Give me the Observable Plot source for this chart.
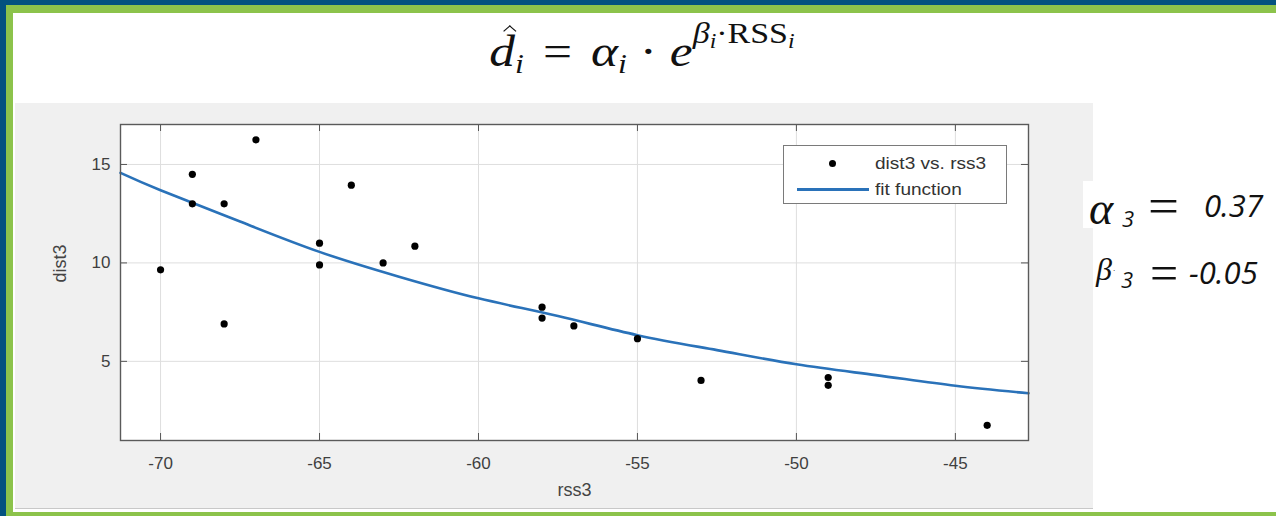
<!DOCTYPE html>
<html><head><meta charset="utf-8">
<script src="https://cdn.jsdelivr.net/npm/d3@7"></script>
<script src="https://cdn.jsdelivr.net/npm/@observablehq/plot@0.6"></script>
<style>
html,body{margin:0;padding:0;background:#fff;}
#page{position:relative;width:1276px;height:516px;overflow:hidden;background:#fff;}
.abs{position:absolute;}
#topBlue{left:0;top:0;width:1276px;height:5px;background:#03527f;}
#topGreen{left:6px;top:5px;width:1270px;height:8px;background:#8cc34b;}
#leftBlue{left:0;top:0;width:6px;height:516px;background:#03527f;}
#leftGreen{left:6px;top:5px;width:7px;height:511px;background:#8cc34b;}
#bottomGreen{left:6px;top:512px;width:1270px;height:4px;background:#8cc34b;}
#fig{left:15px;top:103px;width:1078px;height:405px;background:#f0f0f0;border-bottom:1px solid #c8c8c8;}
#chart{left:0;top:0;}
#chart svg{display:block;}
#formula{left:342px;top:16px;width:600px;text-align:center;font-family:'Liberation Serif','Times New Roman',serif;font-size:44px;color:#111;white-space:nowrap;transform:scaleX(1.17);transform-origin:center;line-height:1.2;}
#formula .it{font-style:italic;}
#formula .hat{position:relative;display:inline-block;}
#formula .circ{position:absolute;left:0.3em;top:0.02em;width:0.16em;height:0.16em;border-left:1.5px solid #111;border-top:1.5px solid #111;transform:rotate(45deg);}
#formula sub{font-size:0.62em;vertical-align:-0.28em;font-style:italic;}
#formula sup{font-size:0.66em;vertical-align:0.78em;}
#formula sup sub{font-size:0.7em;vertical-align:-0.25em;}
#formula .sp{display:inline-block;width:0.12em;}
#legend{left:783px;top:145px;width:222px;height:57px;background:#fff;border:1.5px solid #7a7a7a;}
.legtxt{font-family:'Liberation Sans',Arial,sans-serif;font-size:17px;color:#333;white-space:nowrap;line-height:1;transform:scaleX(1.12);transform-origin:left center;}
#params{font-family:'Liberation Serif','Times New Roman',serif;color:#111;}
#paramBox{left:1083px;top:181px;width:193px;height:47px;background:#fff;}
.sym{font-style:italic;line-height:1;white-space:nowrap;}
.num{font-family:'Open Sans','DejaVu Sans',sans-serif;font-style:italic;line-height:1;white-space:nowrap;color:#111;}
</style></head>
<body>
<div id="page">
  <div id="topBlue" class="abs"></div>
  <div id="topGreen" class="abs"></div>
  <div id="leftBlue" class="abs"></div>
  <div id="leftGreen" class="abs"></div>
  <div id="bottomGreen" class="abs"></div>
  <div id="fig" class="abs"></div>
  <div id="paramBox" class="abs"></div>
  <div id="chart" class="abs"></div>
  <div id="formula" class="abs"><span class="hat it">d<span class="circ"></span></span><sub>i</sub> <span class="sp"></span>= <span class="sp"></span><span class="it">α</span><sub>i</sub> · <span class="it">e</span><sup><span class="it">β</span><sub>i</sub>·RSS<sub>i</sub></sup></div>
  <div id="legend" class="abs"></div>
  <div id="legDot" class="abs" style="left:828.5px;top:159.5px;width:7px;height:7px;border-radius:50%;background:#000;"></div>
  <div class="abs legtxt" style="left:875px;top:155px;">dist3 vs. rss3</div>
  <div class="abs" style="left:797px;top:188px;width:72px;height:3px;background:#2a72b9;"></div>
  <div class="abs legtxt" style="left:875px;top:181px;">fit function</div>
  <div id="params">
    <div class="abs sym" style="left:1089px;top:186px;font-size:46px;">α</div>
    <div class="abs num" style="left:1122px;top:207px;font-size:22px;">3</div>
    <div class="abs sym" style="left:1148px;top:181px;font-size:50px;font-style:normal;transform:scaleX(1.1);transform-origin:left;">=</div>
    <div class="abs num" style="left:1204px;top:190px;font-size:31px;">0.37</div>
    <div class="abs sym" style="left:1096px;top:253px;font-size:32px;">β</div>
    <div class="abs num" style="left:1113px;top:266px;font-size:8px;">·</div>
    <div class="abs num" style="left:1121px;top:268px;font-size:22px;">3</div>
    <div class="abs sym" style="left:1150px;top:248px;font-size:50px;font-style:normal;">=</div>
    <div class="abs num" style="left:1189px;top:257px;font-size:31px;">-0.05</div>
  </div>
</div>
<script>
// Data
const rss3  = [-70, -69, -69, -68, -68, -67, -65, -65, -64, -63, -62, -58, -58, -57, -55, -53, -49, -49, -44];
const dist3 = [9.65, 14.5, 13.0, 13.0, 6.9, 16.25, 11.0, 9.9, 13.95, 10.0, 10.85, 7.75, 7.2, 6.8, 6.15, 4.03, 4.18, 3.78, 1.75];
// fitted curve
const fitRss  = [-71.26, -70, -67.5, -65, -62.5, -60, -57.5, -55, -52.5, -50, -47.5, -45, -42.7];
const fitDist = [14.57, 13.69, 12.1, 10.56, 9.3, 8.2, 7.3, 6.33, 5.57, 4.85, 4.3, 3.76, 3.38];
const xTicks = [-70, -65, -60, -55, -50, -45];
const yTicks = [5, 10, 15];
const xDomain = [-71.26, -42.7];
const yDomain = [0.98, 17.03];

const points = rss3.map((x, i) => ({rss: x, dist: dist3[i]}));
const fit = fitRss.map((x, i) => ({rss: x, dist: fitDist[i]}));

const W = 1276, H = 516, ML = 120, MR = 248, MT = 124, MB = 76;
const fw = W - ML - MR, fh = H - MT - MB, tk = 7;

const chart = Plot.plot({
  width: W, height: H,
  marginLeft: ML, marginRight: MR, marginTop: MT, marginBottom: MB,
  style: {background: "transparent", fontFamily: "'Liberation Sans', Arial, sans-serif", fontSize: "17px", color: "#444"},
  x: {domain: xDomain},
  y: {domain: yDomain},
  marks: [
    Plot.frame({fill: "#fff", stroke: null}),
    Plot.gridX(xTicks, {stroke: "#dedede", strokeOpacity: 1}),
    Plot.gridY(yTicks, {stroke: "#dedede", strokeOpacity: 1}),
    Plot.tickX(xTicks, {x: d => d, insetTop: fh - tk, stroke: "#555"}),
    Plot.tickX(xTicks, {x: d => d, insetBottom: fh - tk, stroke: "#555"}),
    Plot.tickY(yTicks, {y: d => d, insetRight: fw - tk, stroke: "#555"}),
    Plot.tickY(yTicks, {y: d => d, insetLeft: fw - tk, stroke: "#555"}),
    Plot.axisX(xTicks, {tickSize: 0, tickPadding: 16, tickFormat: d => String(d), label: null, color: "#3f3f3f", fontSize: 17}),
    Plot.axisY(yTicks, {tickSize: 0, tickPadding: 10, tickFormat: d => String(d), label: null, color: "#3f3f3f", fontSize: 17}),
    Plot.text(["rss3"], {text: d => d, frameAnchor: "bottom", dy: 55, fontSize: 18, fill: "#444"}),
    Plot.text(["dist3"], {text: d => d, frameAnchor: "left", dx: -60, rotate: -90, fontSize: 18, fill: "#444"}),
    Plot.line(fit, {x: "rss", y: "dist", curve: "natural", stroke: "#2a72b9", strokeWidth: 2.6}),
    Plot.dot(points, {x: "rss", y: "dist", r: 3.6, fill: "#000"}),
    Plot.frame({stroke: "#5a5a5a", strokeWidth: 1.4})
  ]
});
document.getElementById("chart").appendChild(chart);
</script>
</body></html>
